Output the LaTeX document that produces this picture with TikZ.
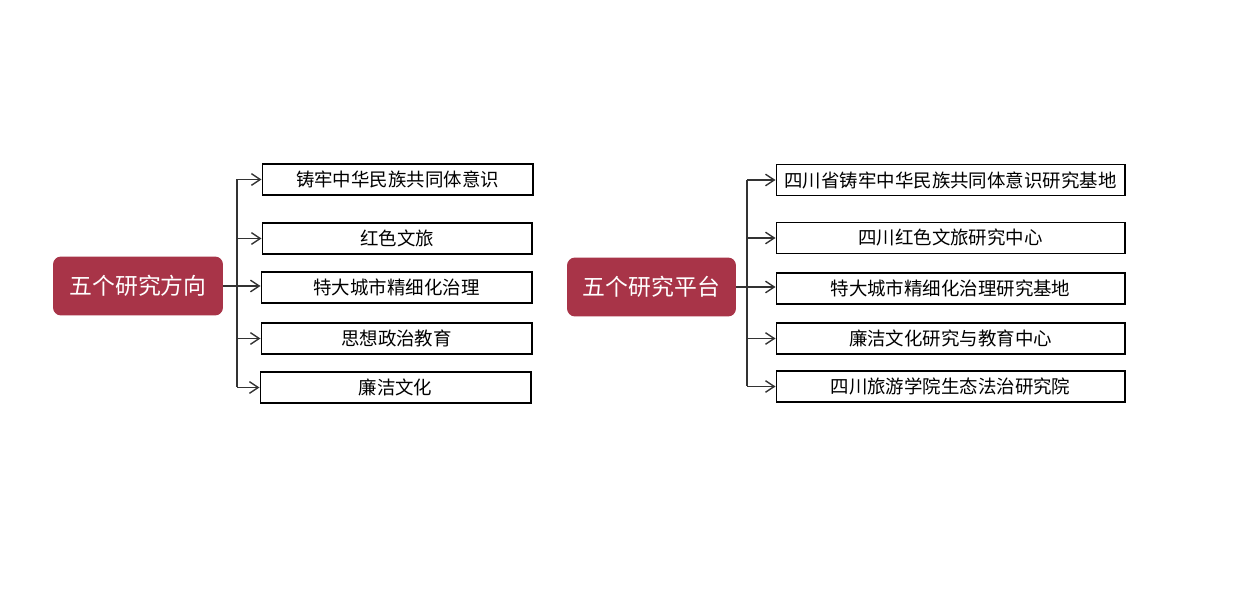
\documentclass[tikz,border=0pt]{standalone}
\usepackage{fontspec}
\newfontfamily\cjk{Noto Sans CJK SC}
\usetikzlibrary{arrows.meta}
\definecolor{rootred}{RGB}{168,52,72}
\tikzstyle{rootbox}=[fill=rootred,draw=none,rounded corners=0.16cm,text=white,minimum width=3.4cm,minimum height=1.18cm,font=\cjk\fontsize{13}{15}\selectfont]
\tikzstyle{leafbox}=[draw=black,line width=0.6pt,fill=white,minimum height=0.62cm,inner sep=0pt,font=\cjk\fontsize{10.5}{12}\selectfont]
\tikzstyle{branch}=[line width=0.8pt,draw=black!80,-{Straight Barb[length=5pt,width=6.6pt]}]
\tikzstyle{trunk}=[line width=0.8pt,draw=black!80]
\newcommand{\branches}[1]{% #1 = side prefix
	\draw[trunk] (#1b1.west -| #1trunk) -- (#1b5.west -| #1trunk);
	\foreach \i in {1,2,4,5} {
		\draw[branch] (#1b\i.west -| #1trunk) -- (#1b\i.west);
	}
	\draw[branch] (#1root.east) -- (#1root.east -| #1b3.west);
}

\begin{document}
\begin{tikzpicture}[x=0.02cm,y=-0.02cm]
	\useasboundingbox (0,0) rectangle (1250,597);
	% left tree
	\node[rootbox] (lroot) at (138,286) {五个研究方向};
	\coordinate (ltrunk) at (237,286);
	\node[leafbox,minimum width=5.42cm] (lb1) at (397.5,179.5) {铸牢中华民族共同体意识};
	\node[leafbox,minimum width=5.40cm] (lb2) at (397,238.5) {红色文旅};
	\node[leafbox,minimum width=5.42cm] (lb3) at (396.5,287.5) {特大城市精细化治理};
	\node[leafbox,minimum width=5.42cm] (lb4) at (396.5,338.5) {思想政治教育};
	\node[leafbox,minimum width=5.42cm] (lb5) at (395.5,387.5) {廉洁文化};
	\branches{l}
	% right tree
	\node[rootbox,minimum width=3.38cm] (rroot) at (651.5,287) {五个研究平台};
	\coordinate (rtrunk) at (747,287);
	\node[leafbox,minimum width=6.98cm] (rb1) at (950.5,180) {四川省铸牢中华民族共同体意识研究基地};
	\node[leafbox,minimum width=6.98cm] (rb2) at (950.5,238) {四川红色文旅研究中心};
	\node[leafbox,minimum width=6.98cm] (rb3) at (950.5,288.5) {特大城市精细化治理研究基地};
	\node[leafbox,minimum width=6.98cm] (rb4) at (950.5,338.5) {廉洁文化研究与教育中心};
	\node[leafbox,minimum width=6.98cm] (rb5) at (950.5,386.5) {四川旅游学院生态法治研究院};
	\branches{r}
\end{tikzpicture}
\end{document}
